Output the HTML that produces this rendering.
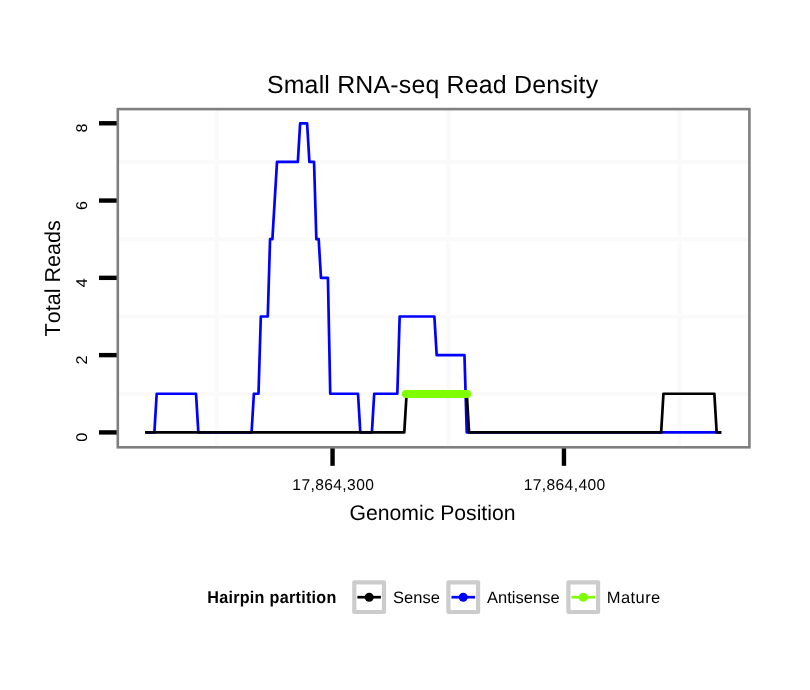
<!DOCTYPE html>
<html><head><meta charset="utf-8"><style>
html,body{margin:0;padding:0;background:#fff;}
svg{display:block;will-change:transform;}
text{font-family:"Liberation Sans",sans-serif;fill:#000;font-kerning:none;text-rendering:geometricPrecision;}
</style></head><body>
<svg width="810" height="690" viewBox="0 0 810 690">
<rect x="0" y="0" width="810" height="690" fill="#fff"/>
<text x="432.6" y="92.7" font-size="24.9" letter-spacing="0.19" text-anchor="middle">Small RNA-seq Read Density</text>
<g stroke="#fafafa" stroke-width="4.2"><line x1="216.85" y1="109" x2="216.85" y2="447" /><line x1="448.25" y1="109" x2="448.25" y2="447" /><line x1="679.65" y1="109" x2="679.65" y2="447" /><line x1="118" y1="393.76" x2="749" y2="393.76" /><line x1="118" y1="316.48" x2="749" y2="316.48" /><line x1="118" y1="239.20" x2="749" y2="239.20" /><line x1="118" y1="161.92" x2="749" y2="161.92" /></g>
<g stroke="#000" stroke-width="4.4"><line x1="99" y1="432.40" x2="117.8" y2="432.40" /><line x1="99" y1="355.12" x2="117.8" y2="355.12" /><line x1="99" y1="277.84" x2="117.8" y2="277.84" /><line x1="99" y1="200.56" x2="117.8" y2="200.56" /><line x1="99" y1="123.28" x2="117.8" y2="123.28" /><line x1="332.55" y1="447.3" x2="332.55" y2="465.8" /><line x1="563.95" y1="447.3" x2="563.95" y2="465.8" /></g>
<polyline points="145.12,432.40 154.37,432.40 156.69,393.76 196.02,393.76 198.34,432.40 251.56,432.40 253.87,393.76 258.50,393.76 260.82,316.48 267.76,316.48 270.07,239.20 272.39,239.20 277.01,161.92 297.84,161.92 300.15,123.28 307.10,123.28 309.41,161.92 314.04,161.92 316.35,239.20 318.67,239.20 320.98,277.84 327.92,277.84 330.24,393.76 358.00,393.76 360.32,432.40 371.89,432.40 374.20,393.76 397.34,393.76 399.66,316.48 434.37,316.48 436.68,355.12 464.45,355.12 466.76,432.40 721.30,432.40" fill="none" stroke="#0000ff" stroke-width="2.7" stroke-linejoin="round"/>
<polyline points="145.12,432.40 404.28,432.40 406.60,393.76 466.76,393.76 469.08,432.40 661.14,432.40 663.45,393.76 714.36,393.76 716.67,432.40 721.30,432.40" fill="none" stroke="#000" stroke-width="2.7" stroke-linejoin="round"/>
<line x1="405.80" y1="393.96" x2="467.06" y2="393.96" stroke="#7fff00" stroke-width="8" stroke-linecap="round"/>
<rect x="117.8" y="109.1" width="631.6" height="338.2" fill="none" stroke="#7f7f7f" stroke-width="2.6"/>
<g font-size="15.6"><text transform="translate(86.6,437.20) rotate(-90) scale(1.04,1)" text-anchor="middle">0</text><text transform="translate(86.6,359.92) rotate(-90) scale(1.04,1)" text-anchor="middle">2</text><text transform="translate(86.6,282.64) rotate(-90) scale(1.04,1)" text-anchor="middle">4</text><text transform="translate(86.6,205.36) rotate(-90) scale(1.04,1)" text-anchor="middle">6</text><text transform="translate(86.6,128.08) rotate(-90) scale(1.04,1)" text-anchor="middle">8</text></g>
<text transform="translate(333.3,489.5)" font-size="15.6" letter-spacing="0.39" text-anchor="middle">17,864,300</text>
<text transform="translate(564.6,489.5)" font-size="15.6" letter-spacing="0.39" text-anchor="middle">17,864,400</text>
<text x="432.5" y="519.7" font-size="21.2" text-anchor="middle">Genomic Position</text>
<text transform="translate(59.9,278.3) rotate(-90)" font-size="21.6" text-anchor="middle">Total Reads</text>
<text transform="translate(207.2,602.9) scale(0.95,1)" font-size="17" letter-spacing="0.29" font-weight="bold">Hairpin partition</text>
<g fill="#fff" stroke="#cccccc" stroke-width="4.2" stroke-linejoin="round">
<rect x="354.3" y="582.3" width="29.7" height="29.7"/>
<rect x="448.4" y="582.3" width="29.7" height="29.7"/>
<rect x="568.4" y="582.3" width="29.7" height="29.7"/>
</g>
<g stroke-width="2.7">
<line x1="357.4" y1="597.2" x2="380.9" y2="597.2" stroke="#000"/>
<line x1="451.5" y1="597.2" x2="475" y2="597.2" stroke="#0000ff"/>
<line x1="571.5" y1="597.2" x2="595" y2="597.2" stroke="#7fff00"/>
</g>
<circle cx="369.2" cy="597.2" r="4.5" fill="#000"/>
<circle cx="463.2" cy="597.2" r="4.5" fill="#0000ff"/>
<circle cx="583.2" cy="597.2" r="4.5" fill="#7fff00"/>
<g font-size="16.5">
<text x="392.9" y="602.6" letter-spacing="0.05">Sense</text>
<text x="487.1" y="602.6">Antisense</text>
<text x="606.75" y="602.6" letter-spacing="0.43">Mature</text>
</g>
</svg>
</body></html>
